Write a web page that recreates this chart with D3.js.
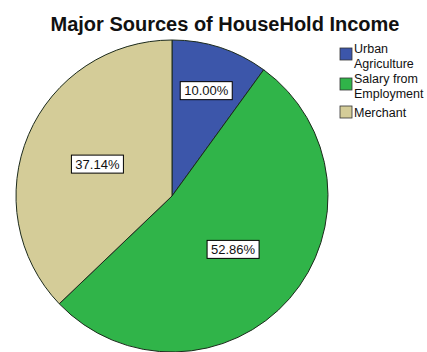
<!DOCTYPE html>
<html>
<head>
    <style>
        body {
            margin: 0;
            background: #ffffff;
            font-family: "Liberation Sans", Arial, Helvetica, sans-serif;
        }
        .title {
            font-size: 20px;
            font-weight: bold;
            fill: #111;
        }
        .slice {
            stroke: #1c2a1c;
            stroke-width: 1;
        }
        .pct-box {
            fill: #ffffff;
            stroke: #000;
            stroke-width: 1;
        }
        .pct-text {
            font-size: 13px;
            fill: #111;
        }
        .legend-text {
            font-size: 12.5px;
            fill: #111;
        }
    </style>
</head>
<body>
    <div id="chart"></div>
    <script src="https://cdnjs.cloudflare.com/ajax/libs/d3/7.8.5/d3.min.js"></script>
    <script>
        // Data
        const categories = ["Urban Agriculture", "Salary from Employment", "Merchant"];
        const legendLines = [["Urban", "Agriculture"], ["Salary from", "Employment"], ["Merchant"]];
        const percents = [10.00, 52.86, 37.14];
        const colors = ["#3c56aa", "#30b449", "#d4cc98"];

        const width = 427, height = 352;
        const cx = 172, cy = 196, radius = 156;

        const svg = d3.select("#chart")
            .append("svg")
            .attr("width", width)
            .attr("height", height);

        svg.append("text")
            .attr("class", "title")
            .attr("x", 225)
            .attr("y", 31)
            .attr("text-anchor", "middle")
            .text("Major Sources of HouseHold Income");

        const pie = d3.pie().sort(null).value(d => d);
        const arcs = pie(percents);

        const arc = d3.arc().innerRadius(0).outerRadius(radius);

        const g = svg.append("g")
            .attr("transform", `translate(${cx},${cy})`);

        g.selectAll("path")
            .data(arcs)
            .enter()
            .append("path")
            .attr("class", "slice")
            .attr("d", arc)
            .attr("fill", (d, i) => colors[i]);

        // labels: small slices sit further out
        const labels = g.selectAll(".pct")
            .data(arcs)
            .enter()
            .append("g")
            .attr("class", "pct")
            .attr("transform", d => {
                const r = d.data < 20 ? radius * 0.71 : radius * 0.52;
                const a = (d.startAngle + d.endAngle) / 2;
                return `translate(${Math.sin(a) * r},${-Math.cos(a) * r})`;
            });

        labels.append("rect")
            .attr("class", "pct-box")
            .attr("x", -26)
            .attr("y", -9)
            .attr("width", 52)
            .attr("height", 18);

        labels.append("text")
            .attr("class", "pct-text")
            .attr("text-anchor", "middle")
            .attr("dy", "0.36em")
            .text(d => d.data.toFixed(2) + "%");

        // legend
        const legendY = [48, 78, 106];
        const legend = svg.append("g");

        const items = legend.selectAll(".legend-item")
            .data(categories)
            .enter()
            .append("g")
            .attr("class", "legend-item")
            .attr("transform", (d, i) => `translate(340,${legendY[i]})`);

        items.append("rect")
            .attr("width", 12)
            .attr("height", 12)
            .attr("fill", (d, i) => colors[i])
            .attr("stroke", "#333")
            .attr("stroke-width", 0.8);

        items.each(function(d, i) {
            const t = d3.select(this).append("text")
                .attr("class", "legend-text")
                .attr("x", 14)
                .attr("y", legendLines[i].length > 1 ? 5 : 11);
            legendLines[i].forEach((line, j) => {
                t.append("tspan")
                    .attr("x", 14)
                    .attr("dy", j === 0 ? 0 : 14.5)
                    .text(line);
            });
        });
    </script>
</body>
</html>
